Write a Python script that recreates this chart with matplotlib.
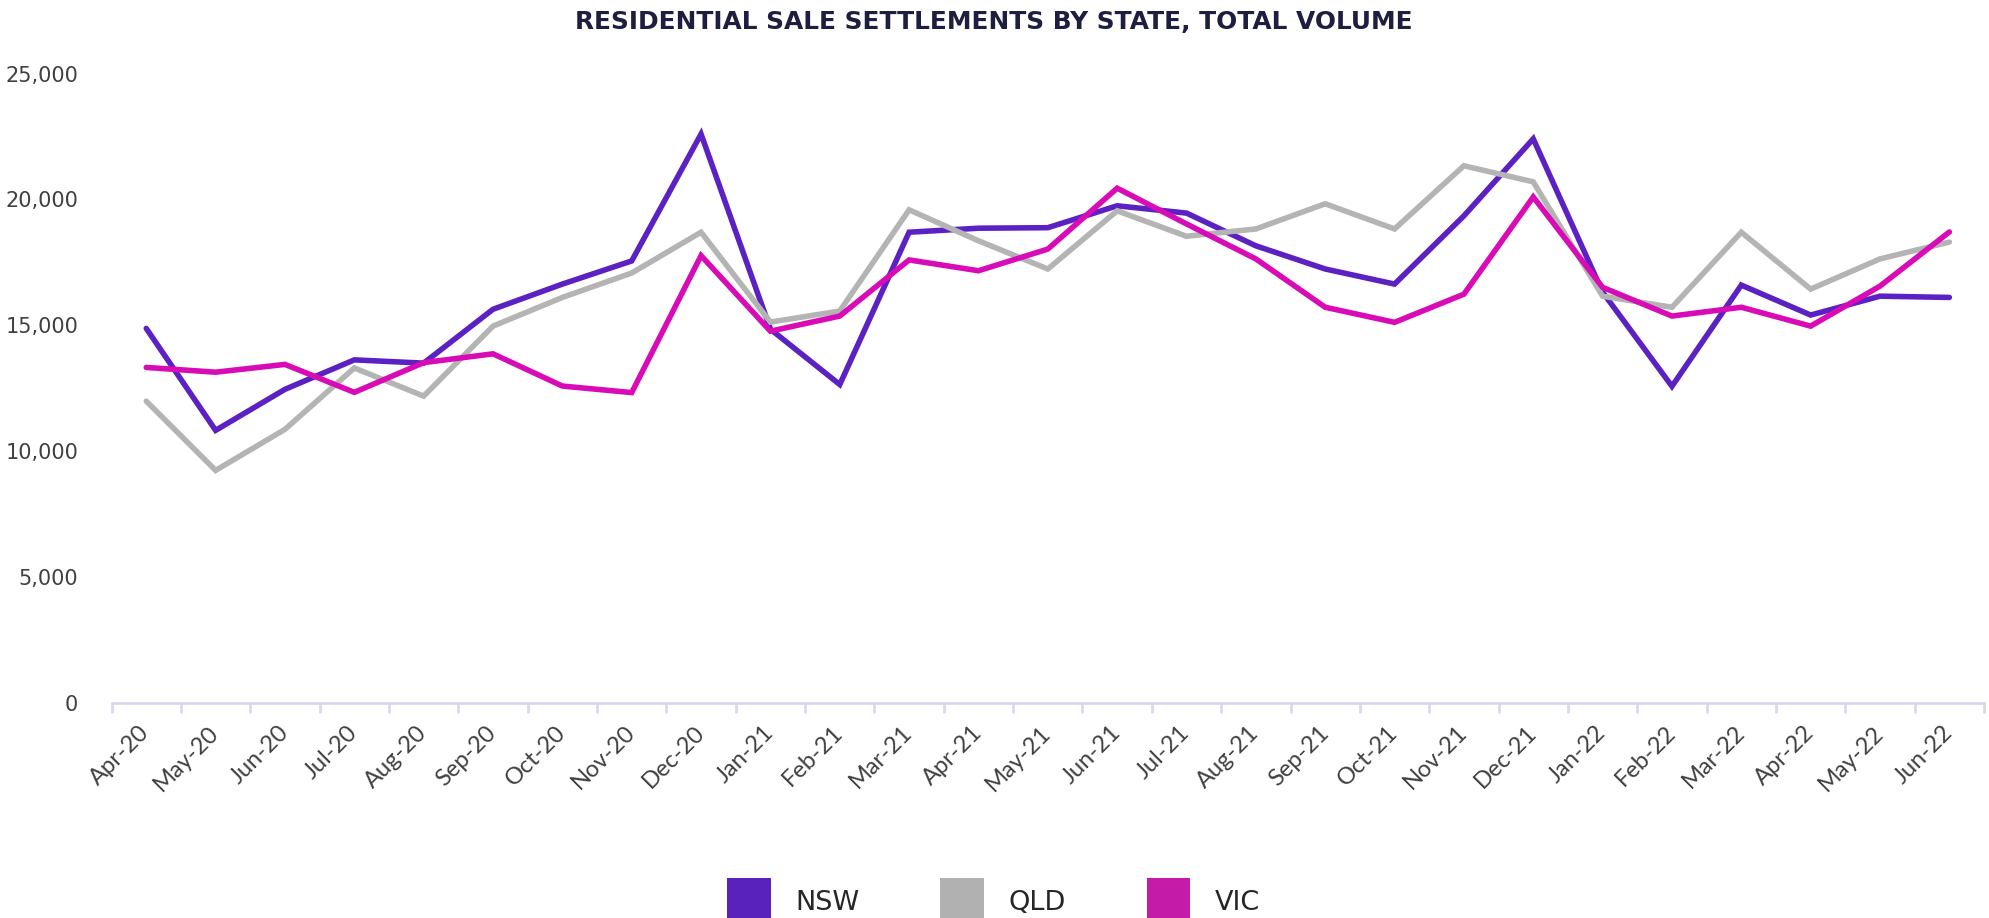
import matplotlib
matplotlib.use('Agg')
import matplotlib.pyplot as plt
from matplotlib.patches import Patch
from matplotlib.ticker import FuncFormatter, FixedLocator

months = ['Apr-20', 'May-20', 'Jun-20', 'Jul-20', 'Aug-20', 'Sep-20', 'Oct-20',
          'Nov-20', 'Dec-20', 'Jan-21', 'Feb-21', 'Mar-21', 'Apr-21', 'May-21',
          'Jun-21', 'Jul-21', 'Aug-21', 'Sep-21', 'Oct-21', 'Nov-21', 'Dec-21',
          'Jan-22', 'Feb-22', 'Mar-22', 'Apr-22', 'May-22', 'Jun-22']
nsw = [14880, 10830, 12460, 13630, 13500, 15640, 16640, 17560, 22600, 14850,
       12650, 18700, 18860, 18880, 19750, 19460, 18160, 17240, 16640, 19350,
       22410, 16320, 12580, 16600, 15410, 16160, 16110]
qld = [11990, 9240, 10870, 13310, 12190, 14970, 16110, 17080, 18700, 15130,
       15570, 19590, 18360, 17240, 19550, 18540, 18830, 19830, 18830, 21340,
       20700, 16160, 15720, 18700, 16440, 17640, 18310]
vic = [13330, 13140, 13450, 12340, 13520, 13870, 12590, 12330, 17770, 14770,
       15370, 17600, 17170, 18030, 20450, 19030, 17640, 15720, 15120, 16240,
       20100, 16510, 15370, 15720, 14970, 16560, 18710]

series = [('NSW', nsw, '#5B21C2', '#5A22BC'),
          ('QLD', qld, '#B4B4B4', '#B1B1B1'),
          ('VIC', vic, '#D80BB6', '#C41CA8')]

fig = plt.figure(figsize=(19.89, 9.18), dpi=100)
ax = fig.add_axes([0.0561, 0.2342, 0.9414, 0.6856])

x = list(range(len(months)))
for name, vals, col, _ in series:
    ax.plot(x, vals, color=col, lw=4.0, solid_capstyle='round',
            solid_joinstyle='miter', zorder=3)

ax.set_xlim(-0.5, len(months) - 0.5)
ax.set_ylim(0, 25000)
ax.set_yticks(range(0, 25001, 5000))
ax.yaxis.set_major_formatter(FuncFormatter(lambda v, p: f'{int(v):,}'))

for s in ['top', 'right', 'left']:
    ax.spines[s].set_visible(False)
ax.spines['bottom'].set_color('#D9D9EE')
ax.spines['bottom'].set_linewidth(2)

ax.set_xticks(x)
ax.set_xticklabels(months, rotation=45, ha='right', va='center',
                   rotation_mode='anchor', fontsize=17, color='#404040',
                   family=['Lato', 'DejaVu Sans'])
ax.xaxis.set_minor_locator(FixedLocator([i - 0.5 for i in range(len(months) + 1)]))
ax.tick_params(axis='x', which='major', length=0, pad=19)
ax.tick_params(axis='x', which='minor', length=7, width=2, color='#D9D9EE')
ax.tick_params(axis='y', length=0, pad=24)
for lab in ax.get_yticklabels():
    lab.set_family(['Liberation Sans Narrow', 'DejaVu Sans'])
    lab.set_fontsize(15)
    lab.set_color('#404040')

fig.text(0.4995, 0.976, 'RESIDENTIAL SALE SETTLEMENTS BY STATE, TOTAL VOLUME',
         ha='center', va='center', fontsize=17.9, fontweight='bold',
         color='#1E1E40', family=['DejaVu Sans'])

handles = [Patch(facecolor=lc, edgecolor='none', label=name)
           for name, _, _, lc in series]
leg = fig.legend(handles=handles, loc='center', bbox_to_anchor=(0.4995, 0.018),
                 ncol=3, frameon=False, handlelength=1.6, handleheight=2.3,
                 handletextpad=0.9, columnspacing=3.0,
                 prop={'family': ['Liberation Sans Narrow', 'DejaVu Sans'],
                       'size': 19.5})
for t in leg.get_texts():
    t.set_color('#262626')

fig.savefig('out.png', dpi=100)
